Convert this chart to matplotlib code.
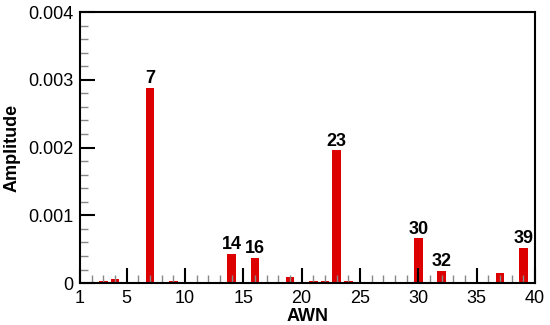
import numpy as np
import matplotlib.pyplot as plt
from matplotlib.ticker import MultipleLocator

plt.rcParams['font.family'] = ['Liberation Sans', 'DejaVu Sans']

awn = [3, 4, 7, 9, 11, 12, 14, 16, 19, 21, 22, 23, 24, 27, 30, 31, 32, 37, 39]
amp = [0.00003, 0.00006, 0.00288, 0.00003, 0.00002, 0.00001, 0.00043, 0.00037,
       0.00009, 0.00003, 0.00003, 0.00196, 0.00003, 0.00002, 0.00066, 0.00001,
       0.00018, 0.00015, 0.00052]
labelled = [7, 14, 16, 23, 30, 32, 39]

fig = plt.figure(figsize=(5.5, 3.25), dpi=100)
ax = fig.add_axes([0.1455, 0.129, 0.827, 0.834])

ax.bar(awn, amp, width=0.75, color='#dd0000', zorder=1)

for x, y in zip(awn, amp):
    if x in labelled:
        ax.text(x, y + 0.00001, str(x), ha='center', va='bottom',
                fontsize=13, fontweight='bold')

ax.set_xlim(1, 40)
ax.set_ylim(0, 0.004)
ax.set_xticks([1, 5, 10, 15, 20, 25, 30, 35, 40])
ax.xaxis.set_minor_locator(MultipleLocator(1))
ax.set_yticks([0, 0.001, 0.002, 0.003, 0.004])
ax.set_yticklabels(['0', '0.001', '0.002', '0.003', '0.004'])
ax.yaxis.set_minor_locator(MultipleLocator(0.0002))

ax.tick_params(which='major', direction='in', length=11, width=1.5,
               labelsize=13, color='black')
ax.tick_params(axis='x', which='major', pad=5)
ax.tick_params(axis='y', which='major', pad=5)
ax.tick_params(which='minor', direction='in', length=6, width=1, color='#888888')
ax.tick_params(axis='y', which='both', right=False)
ax.tick_params(axis='x', which='both', top=False)

for s in ax.spines.values():
    s.set_linewidth(1.5)

ax.set_xlabel('AWN', fontsize=13, fontweight='bold', labelpad=1)
ax.set_ylabel('Amplitude', fontsize=13, fontweight='bold', labelpad=5)

fig.savefig('out.png', dpi=100)
